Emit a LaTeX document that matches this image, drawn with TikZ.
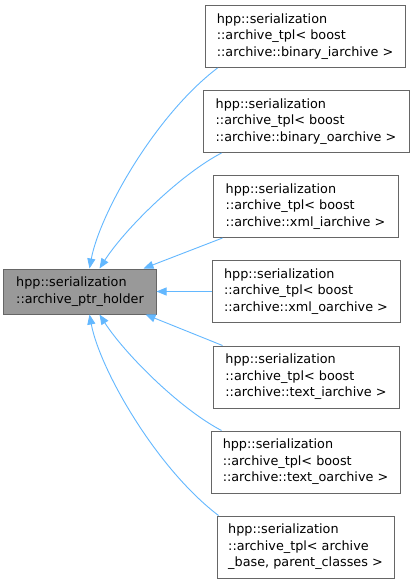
\documentclass[tikz,border=0pt]{standalone}
\usepackage{fontspec}
\setmainfont{DejaVu Sans}
\usetikzlibrary{arrows.meta}
\definecolor{edgeblue}{HTML}{63B8FF}
\definecolor{bordergray}{HTML}{666666}
\definecolor{mainfill}{HTML}{999999}
\begin{document}
\begin{tikzpicture}[x=1bp,y=-1bp,
  cls/.style={draw=bordergray, line width=1bp, fill=white, inner sep=0pt, align=left,
    font=\fontsize{12.8bp}{16.5bp}\selectfont, minimum height=62bp},
  mainbox/.style={cls, fill=mainfill, minimum height=45bp},
  inh/.style={draw=edgeblue, line width=0.9bp, -{Triangle[length=10bp,width=8bp]}}
]
\useasboundingbox[fill=white] (0,0) rectangle (413,584);
\node[mainbox, minimum width=152bp] (main) at (80,291.5) {hpp::serialization\\::archive\_ptr\_holder};
\node[cls, minimum width=200bp] (b1) at (305,36.5) {hpp::serialization\\::archive\_tpl< boost\\::archive::binary\_iarchive >};
\node[cls, minimum width=206bp] (b2) at (306,121.5) {hpp::serialization\\::archive\_tpl< boost\\::archive::binary\_oarchive >};
\node[cls, minimum width=185bp] (b3) at (305.5,206.5) {hpp::serialization\\::archive\_tpl< boost\\::archive::xml\_iarchive >};
\node[cls, minimum width=188bp] (b4) at (306,291.5) {hpp::serialization\\::archive\_tpl< boost\\::archive::xml\_oarchive >};
\node[cls, minimum width=186bp] (b5) at (306,377) {hpp::serialization\\::archive\_tpl< boost\\::archive::text\_iarchive >};
\node[cls, minimum width=189bp] (b6) at (305.5,462) {hpp::serialization\\::archive\_tpl< boost\\::archive::text\_oarchive >};
\node[cls, minimum width=177bp] (b7) at (305.5,547) {hpp::serialization\\::archive\_tpl< archive\\\_base, parent\_classes >};

\draw[inh] ([xshift=13bp]b1.south west) .. controls +(-63,48) and +(10,-54) .. ([xshift=86bp]main.north west);
\draw[inh] ([xshift=19bp]b2.south west) .. controls +(-42,22) and +(25,-39) .. ([xshift=96bp]main.north west);
\draw[inh] ([xshift=10bp]b3.south west) -- ([xshift=-13bp]main.north east);
\draw[inh] (b4.west) -- (main.east);
\draw[inh] ([xshift=10bp]b5.north west) -- ([xshift=-11bp]main.south east);
\draw[inh] ([xshift=11bp]b6.north west) .. controls +(-42,-22) and +(25,39) .. ([xshift=96bp]main.south west);
\draw[inh] ([xshift=2bp]b7.north west) .. controls +(-63,-48) and +(10,54) .. ([xshift=86bp]main.south west);
\end{tikzpicture}
\end{document}
